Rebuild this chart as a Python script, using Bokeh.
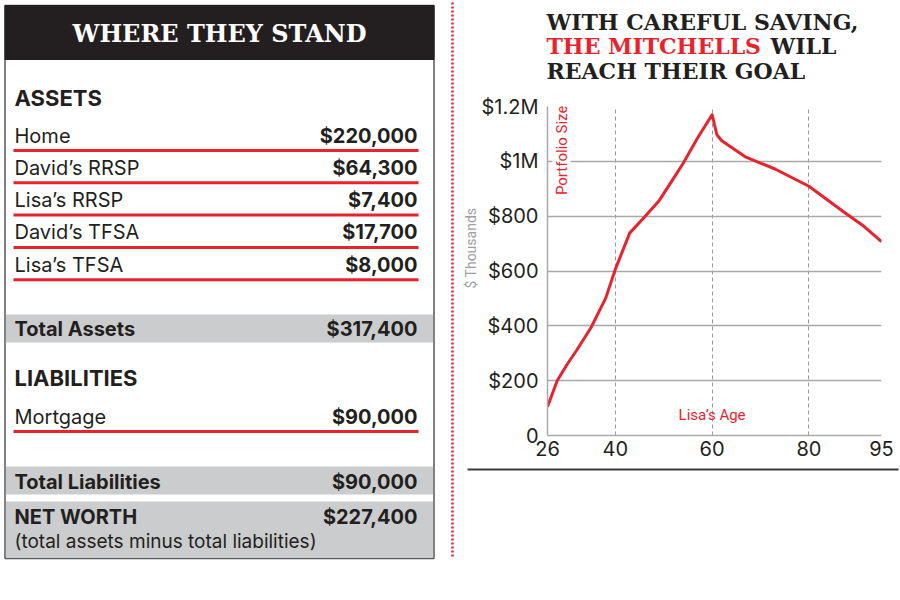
from math import pi
from bokeh.plotting import figure
from bokeh.layouts import row, column
from bokeh.models import Range1d, FixedTicker, Label, Title
from bokeh.core.properties import value
from bokeh.embed import file_html
from bokeh.resources import INLINE

# ---------------- data ----------------
asset_labels = ["Home", "David’s RRSP", "Lisa’s RRSP", "David’s TFSA", "Lisa’s TFSA"]
asset_values = [220000, 64300, 7400, 17700, 8000]
liability_labels = ["Mortgage"]
liability_values = [90000]
total_assets = sum(asset_values)            # 317,400
total_liabilities = sum(liability_values)   # 90,000
net_worth = total_assets - total_liabilities  # 227,400

ages = [26, 28, 30, 32, 35, 38, 40, 43, 46, 49, 52, 54, 57, 60, 61, 62, 67, 73, 80, 87, 91, 95]
portfolio = [105, 200, 258, 310, 394, 500, 606, 739, 796, 855, 937, 992, 1085, 1170,
             1097, 1075, 1015, 972, 909, 818, 768, 707]   # $ thousands

x_ticks = [26, 40, 60, 80, 95]
y_ticks = [0, 200, 400, 600, 800, 1000, 1200]
y_tick_labels = ["0", "$200", "$400", "$600", "$800", "$1M", "$1.2M"]

RED = "#e9232d"
INK = "#231f20"
BAND = "#cbcccd"
SANS = "Inter"
SLAB = "DejaVu Serif"


def money(v):
    return "${:,}".format(v)


def canvas_fig(w, h):
    f = figure(width=w, height=h, x_range=Range1d(0, w), y_range=Range1d(h, 0),
               output_backend="svg", toolbar_location=None, min_border=0,
               x_axis_location=None, y_axis_location=None, frame_align=False)
    f.xgrid.visible = False
    f.ygrid.visible = False
    f.outline_line_color = None
    return f


# ---------------- left table ----------------
tbl = canvas_fig(460, 580)
L, R = 4.5, 433.5
tbl.quad(left=[L], right=[R], top=[5], bottom=[558], fill_color="white",
         line_color="#58595b", line_width=1.5)
tbl.quad(left=[L], right=[R], top=[5], bottom=[59], fill_color=INK, line_color=INK)
tbl.text(x=[219], y=[33], text=["WHERE THEY STAND"], text_color="white",
         text_font=value(SLAB), text_font_style="bold", text_font_size="24px",
         text_align="center", text_baseline="middle")

# grey bands
tbl.quad(left=[5.5] * 3, right=[432.5] * 3, top=[314, 466, 501], bottom=[342, 494, 557.5],
         fill_color=BAND, line_color=None)

# section heads
tbl.text(x=[14, 14], y=[97, 377], text=["ASSETS", "LIABILITIES"], text_color=INK,
         text_font=value(SANS), text_font_style="bold", text_font_size="22px",
         text_align="left", text_baseline="middle")

pitch = 32.3
row_y = [135 + pitch * i for i in range(len(asset_labels))] + \
        [416 + pitch * i for i in range(len(liability_labels))]
row_labels = asset_labels + liability_labels
row_values = [money(v) for v in asset_values + liability_values]
tbl.text(x=[14] * len(row_y), y=row_y, text=row_labels, text_color=INK,
         text_font=value(SANS), text_font_size="20px", text_align="left", text_baseline="middle")
tbl.text(x=[417] * len(row_y), y=row_y, text=row_values, text_color=INK,
         text_font=value(SANS), text_font_style="bold", text_font_size="20px",
         text_align="right", text_baseline="middle")
line_y = [y + 15 for y in row_y]
tbl.segment(x0=[13] * len(line_y), x1=[418] * len(line_y), y0=line_y, y1=line_y,
            line_color=RED, line_width=3)

tot_y = [328, 481, 516]
tbl.text(x=[14] * 3, y=tot_y, text=["Total Assets", "Total Liabilities", "NET WORTH"],
         text_color=INK, text_font=value(SANS), text_font_style="bold", text_font_size="20px",
         text_align="left", text_baseline="middle")
tbl.text(x=[417] * 3, y=tot_y, text=[money(total_assets), money(total_liabilities), money(net_worth)],
         text_color=INK, text_font=value(SANS), text_font_style="bold", text_font_size="20px",
         text_align="right", text_baseline="middle")
tbl.text(x=[14], y=[541], text=["(total assets minus total liabilities)"], text_color=INK,
         text_font=value(SANS), text_font_size="19px", text_align="left", text_baseline="middle")

# dotted separator
tbl.segment(x0=[452], x1=[452], y0=[2], y1=[558], line_color=RED, line_width=2.5, line_dash="2 2")

# ---------------- chart title ----------------
ttl = canvas_fig(439, 90)
ttl.text(x=[86, 86], y=[21, 70], text=["WITH CAREFUL SAVING,", "REACH THEIR GOAL"], text_color=INK,
         text_font=value(SLAB), text_font_style="bold", text_font_size="22px",
         text_align="left", text_baseline="middle")
ttl.text(x=[86], y=[45], text=["THE MITCHELLS"], text_color=RED,
         text_font=value(SLAB), text_font_style="bold", text_font_size="22px",
         text_align="left", text_baseline="middle")
ttl.text(x=[310], y=[45], text=["WILL"], text_color=INK,
         text_font=value(SLAB), text_font_style="bold", text_font_size="22px",
         text_align="left", text_baseline="middle")

# ---------------- chart ----------------
chart = figure(width=439, height=377, x_range=Range1d(26, 95), y_range=Range1d(0, 1200),
               output_backend="svg", toolbar_location=None, frame_align=False,
               min_border_left=86, min_border_right=18, min_border_top=16, min_border_bottom=32)
chart.outline_line_color = None

chart.xaxis.ticker = FixedTicker(ticks=x_ticks)
chart.yaxis.ticker = FixedTicker(ticks=y_ticks)
chart.yaxis.major_label_overrides = {t: s for t, s in zip(y_ticks, y_tick_labels)}
for ax in chart.axis:
    ax.axis_line_color = "#a7a9ac"
    ax.axis_line_width = 1.5
    ax.major_tick_in = 0
    ax.major_tick_out = 0
    ax.minor_tick_line_color = None
    ax.major_label_text_font = SANS
    ax.major_label_text_font_size = "20px"
    ax.major_label_text_color = INK
chart.xaxis.major_label_standoff = 5
chart.yaxis.major_label_standoff = 9

chart.ygrid.ticker = FixedTicker(ticks=y_ticks[1:-1])
chart.ygrid.grid_line_color = "#a7a9ac"
chart.ygrid.grid_line_width = 1.5
chart.xgrid.ticker = FixedTicker(ticks=x_ticks[1:])
chart.xgrid.grid_line_color = "#9a9a9a"
chart.xgrid.grid_line_width = 1
chart.xgrid.grid_line_dash = "4 3"

chart.line(ages, portfolio, line_color=RED, line_width=3, line_join="round")

chart.add_layout(Label(x=26, y=1040, x_offset=14, angle=pi / 2, text="Portfolio Size",
                       text_color=RED, text_font="Roboto", text_font_size="15px",
                       text_align="center", text_baseline="middle",
                       background_fill_color="white"))
chart.add_layout(Label(x=60, y=73, text="Lisa’s Age", text_color=RED, text_font="Roboto",
                       text_font_size="15px", text_align="center", text_baseline="middle"))
chart.add_layout(Title(text="$ Thousands", text_color="#9d9fa2", text_font="Roboto",
                       text_font_size="14px", text_font_style="normal", align="left",
                       offset=147, standoff=0), "left")

# ---------------- rule under chart ----------------
rule = canvas_fig(439, 113)
rule.segment(x0=[7], x1=[438], y0=[2], y1=[2], line_color="#3a3a3a", line_width=2)

layout = row(tbl, column(ttl, chart, rule, spacing=0), spacing=0)

open("out.html", "w").write(file_html(layout, INLINE))
